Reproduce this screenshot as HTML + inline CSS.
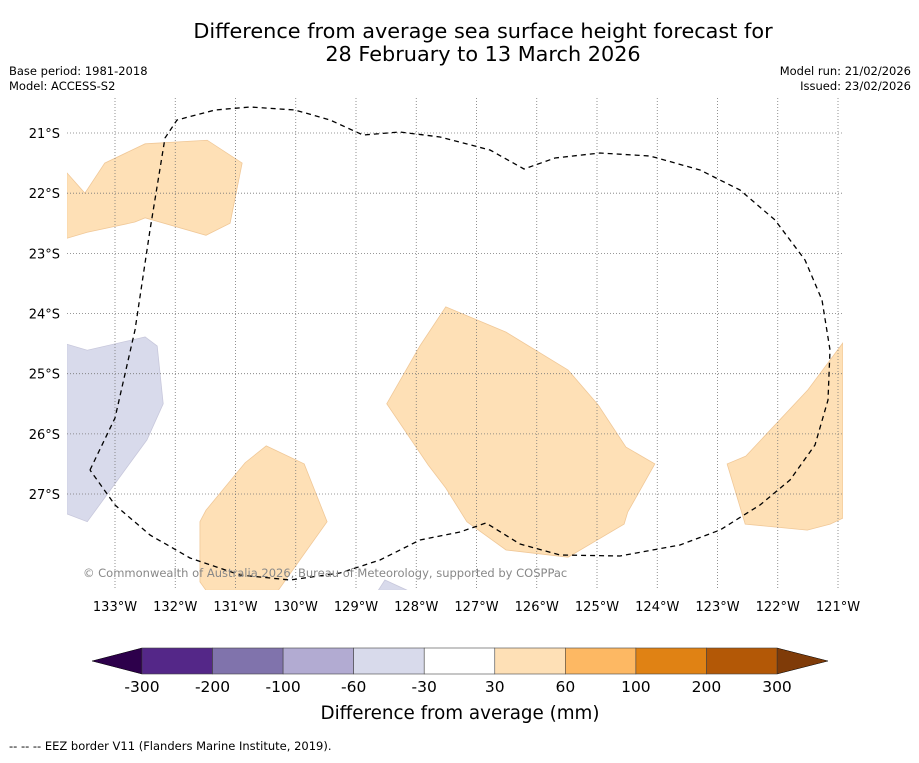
<!DOCTYPE html>
<html><head><meta charset="utf-8"><style>
body{margin:0;background:#fff;font-family:"Liberation Sans","DejaVu Sans",sans-serif}
svg text{font-family:"DejaVu Sans","Liberation Sans",sans-serif}
</style></head><body>
<svg id="c" width="919" height="758" xmlns="http://www.w3.org/2000/svg">
<text x="483" y="38" font-size="20.8" text-anchor="middle">Difference from average sea surface height forecast for</text>
<text x="483" y="61" font-size="20.8" text-anchor="middle">28 February to 13 March 2026</text>
<text x="9" y="75" font-size="11.5">Base period: 1981-2018</text>
<text x="9" y="90" font-size="11.5">Model: ACCESS-S2</text>
<text x="911" y="75" font-size="11.5" text-anchor="end">Model run: 21/02/2026</text>
<text x="911" y="90" font-size="11.5" text-anchor="end">Issued: 23/02/2026</text>
<defs><clipPath id="mc"><rect x="67" y="98" width="776" height="492"/></clipPath></defs>
<g id="fills" clip-path="url(#mc)"></g>
<g id="grid"></g>
<g id="eez" clip-path="url(#mc)"></g>
<text x="83" y="577" font-size="11.5" fill="#888">© Commonwealth of Australia 2026, Bureau of Meteorology, supported by COSPPac</text>
<g id="cbar"></g>
<text x="460" y="719" font-size="18.3" text-anchor="middle">Difference from average (mm)</text>
<text x="9" y="750" font-size="11.5">--  --  -- EEZ border V11 (Flanders Marine Institute, 2019).</text>
</svg>
<script>
const lonTicks=[-133,-132,-131,-130,-129,-128,-127,-126,-125,-124,-123,-122,-121];
const latTicks=[-21,-22,-23,-24,-25,-26,-27];
const levels=["-300","-200","-100","-60","-30","30","60","100","200","300"];
const levelColors=["#542788","#8073ac","#b2abd2","#d8daeb","#ffffff","#fee0b6","#fdb863","#e08214","#b35806"];
const lowColor="#2d004b", highColor="#7f3b08";
const regionClasses=[5,3,5,5,5,3];
const regions=[
[[-133.8,-21.66],[-133.5,-22.0],[-133.17,-21.5],[-132.5,-21.18],[-131.47,-21.12],[-130.89,-21.5],[-131.09,-22.5],[-131.49,-22.7],[-132.5,-22.41],[-132.67,-22.48],[-133.46,-22.65],[-133.8,-22.75]],
[[-133.8,-24.51],[-133.46,-24.61],[-132.5,-24.39],[-132.3,-24.54],[-132.2,-25.5],[-132.47,-26.1],[-133.46,-27.46],[-133.8,-27.33]],
[[-131.59,-27.46],[-131.49,-27.27],[-130.84,-26.48],[-130.49,-26.2],[-129.86,-26.5],[-129.48,-27.46],[-130.29,-28.6],[-131.49,-28.6],[-131.59,-28.46]],
[[-128.49,-25.5],[-127.94,-24.54],[-127.51,-23.89],[-126.51,-24.31],[-125.48,-24.94],[-124.98,-25.52],[-124.52,-26.22],[-124.04,-26.5],[-124.49,-27.3],[-124.55,-27.5],[-125.48,-28.05],[-126.51,-27.93],[-127.16,-27.46],[-127.51,-26.9],[-127.8,-26.52]],
[[-120.92,-24.49],[-121.5,-25.27],[-122.53,-26.37],[-122.84,-26.5],[-122.54,-27.5],[-121.51,-27.6],[-121.13,-27.5],[-120.92,-27.4]],
[[-128.63,-28.6],[-128.52,-28.43],[-128.15,-28.6]]];
// digitized EEZ boundary (pixel trace)
const eezPx=[[90,470],[115,418],[135,330],[150,230],[165,138],[177,120],[215,110],[250,107],[295,110],[330,120],[363,135],[400,132],[440,137],[490,150],[524,169],[555,158],[600,153],[650,156],[700,170],[740,190],[775,220],[805,260],[822,300],[830,350],[828,400],[815,445],[790,480],[760,505],[720,530],[680,545],[620,556],[560,555],[520,544],[486,523],[460,532],[420,540],[380,560],[340,573],[290,580],[240,575],[190,558],[150,535],[115,505],[90,470]];
const X=lon=>115+(lon+133)*60.25, Y=lat=>133+(-21-lat)*60.17;
const NS="http://www.w3.org/2000/svg";
function mk(t,a,p){const e=document.createElementNS(NS,t);for(const k in a)e.setAttribute(k,a[k]);p.appendChild(e);return e;}
const fills=document.getElementById('fills');
regions.forEach((r,i)=>{const p=mk('polygon',{points:r.map(q=>X(q[0])+','+Y(q[1])).join(' '),fill:levelColors[regionClasses[i]],stroke:i==1||i==5?'#c8c8dc':'#f0c898','stroke-width':0.8},fills);

});
const g=document.getElementById('grid');
lonTicks.forEach(l=>{const ln=mk('line',{x1:X(l),x2:X(l),y1:98,y2:590,stroke:'#777','stroke-width':0.8,'stroke-dasharray':'1,2'},g);


const t=mk('text',{x:X(l),y:611,'font-size':13,'text-anchor':'middle'},g);t.textContent=Math.abs(l)+'°W';

});
latTicks.forEach(l=>{const ln=mk('line',{x1:67,x2:843,y1:Y(l),y2:Y(l),stroke:'#777','stroke-width':0.8,'stroke-dasharray':'1,2'},g);


const t=mk('text',{x:60,y:Y(l)+5,'font-size':13,'text-anchor':'end'},g);t.textContent=Math.abs(l)+'°S';

});
const e=mk('polyline',{points:eezPx.map(p=>p.join(',')).join(' '),fill:'none',stroke:'#000','stroke-width':1.3,'stroke-dasharray':'5,4','stroke-linejoin':'round'},document.getElementById('eez'));


const cb=document.getElementById('cbar');const x0=142,x1=777,w=(x1-x0)/levelColors.length;
const lo=mk('polygon',{points:`92,661 ${x0},648 ${x0},674`,fill:lowColor,stroke:'#000','stroke-width':0.5},cb);


const hi=mk('polygon',{points:`828,661 ${x1},648 ${x1},674`,fill:highColor,stroke:'#000','stroke-width':0.5},cb);


levelColors.forEach((c,i)=>{const r=mk('rect',{x:x0+i*w,y:648,width:w,height:26,fill:c,stroke:'#444','stroke-width':0.6},cb);

});
levels.forEach((l,i)=>{const t=mk('text',{x:x0+i*w,y:692,'font-size':15.5,'text-anchor':'middle'},cb);t.textContent=l;

});
</script>
</body></html>
